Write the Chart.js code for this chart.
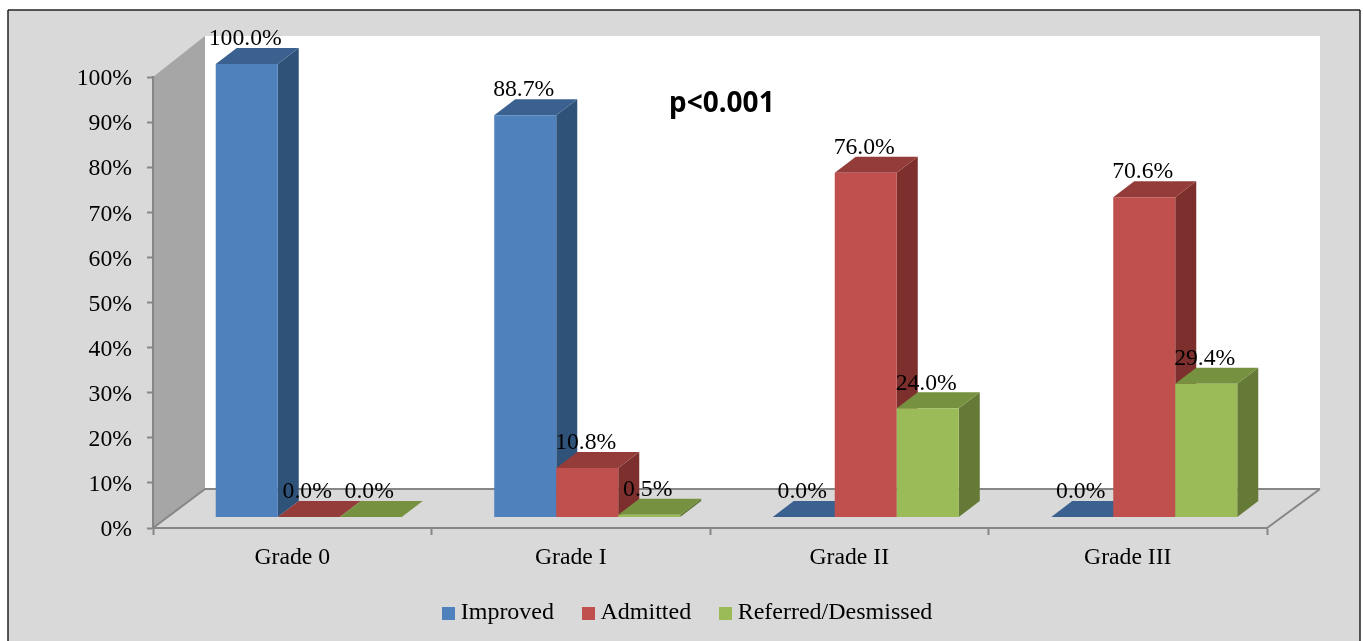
<!DOCTYPE html>
<html>
<head>
<meta charset="utf-8">
<title>Outcome by grade</title>
<script src="https://cdn.jsdelivr.net/npm/chart.js@4"></script>
<style>
    body { margin: 0; background: #fff; }
    canvas { display: block; }
</style>
</head>
<body>
<canvas id="gradeChart" width="1363" height="641"></canvas>
<script>
const grades = ['Grade 0', 'Grade I', 'Grade II', 'Grade III'];
const improved = [100.0, 88.7, 0.0, 0.0];
const admitted = [0.0, 10.8, 76.0, 70.6];
const referred = [0.0, 0.5, 24.0, 29.4];
const percentTicks = [0, 10, 20, 30, 40, 50, 60, 70, 80, 90, 100];
const pValueText = 'p<0.001';

const fontFamily = '"Liberation Serif", "Times New Roman", serif';
const fontSize = 23.7;
const axisColor = '#868686';

// offsets of the bars from the axis plane, and depth of the 3d effect
const barShiftX = 16.5;
const barShiftY = -11;
const depthX = 21;
const depthY = -16;

const palette = [
    { front: '#4f81bd', top: '#3a6190', side: '#2f5278' },
    { front: '#c0504d', top: '#943c3a', side: '#7c2f2d' },
    { front: '#9bbb59', top: '#76913f', side: '#667a38' }
];

function poly(ctx, points, fill) {
    ctx.beginPath();
    points.forEach((p, i) => i ? ctx.lineTo(p[0], p[1]) : ctx.moveTo(p[0], p[1]));
    ctx.closePath();
    ctx.fillStyle = fill;
    ctx.fill();
}

function line(ctx, x1, y1, x2, y2) {
    ctx.beginPath();
    ctx.moveTo(x1, y1);
    ctx.lineTo(x2, y2);
    ctx.stroke();
}

function swatch(color) {
    const c = document.createElement('canvas');
    c.width = 13;
    c.height = 13;
    const g = c.getContext('2d');
    g.fillStyle = color;
    g.fillRect(0, 0, 13, 13);
    return c;
}

// frame, back wall, side wall and floor
const backdrop = {
    id: 'backdrop',
    beforeDraw(chart) {
        const { ctx, chartArea: a } = chart;
        const wallX = 52;
        const wallY = 41;
        ctx.save();
        ctx.fillStyle = '#d9d9d9';
        ctx.fillRect(8, 10, 1352, 631);
        ctx.strokeStyle = '#222';
        ctx.lineWidth = 1.5;
        line(ctx, 8, 10, 1360, 10);
        line(ctx, 8, 10, 8, 641);
        line(ctx, 1360, 10, 1360, 641);

        ctx.fillStyle = '#fff';
        ctx.fillRect(a.left + wallX, a.top - wallY, a.width + 1, a.height + 2);
        poly(ctx, [[a.left, a.top], [a.left + wallX, a.top - wallY], [a.left + wallX, a.bottom - wallY + 2], [a.left, a.bottom]], '#a6a6a6');
        poly(ctx, [[a.left, a.bottom], [a.left + wallX, a.bottom - wallY + 2], [a.right + wallX + 1, a.bottom - wallY + 2], [a.right, a.bottom]], '#d9d9d9');

        ctx.strokeStyle = axisColor;
        ctx.lineWidth = 2;
        line(ctx, a.left + wallX, a.bottom - wallY + 2, a.right + wallX + 1, a.bottom - wallY + 2);
        line(ctx, a.right, a.bottom, a.right + wallX + 1, a.bottom - wallY + 2);
        line(ctx, a.left, a.bottom, a.left + wallX, a.bottom - wallY + 2);
        ctx.restore();
    }
};

// bars are painted left to right so each front face covers its neighbour's side
const bars3d = {
    id: 'bars3d',
    beforeDatasetsDraw(chart) {
        const ctx = chart.ctx;
        ctx.save();
        ctx.translate(barShiftX, barShiftY);
        chart.data.datasets.forEach((ds, i) => {
            const meta = chart.getDatasetMeta(i);
            const colors = palette[i];
            meta.data.forEach(bar => {
                const half = bar.width / 2;
                const l = bar.x - half;
                const r = bar.x + half;
                poly(ctx, [[r, bar.y], [r + depthX, bar.y + depthY], [r + depthX, bar.base + depthY], [r, bar.base]], colors.side);
                poly(ctx, [[l, bar.y], [l + depthX, bar.y + depthY], [r + depthX, bar.y + depthY], [r, bar.y]], colors.top);
            });
            meta.controller.draw();
        });
        ctx.restore();
    },
    beforeDatasetDraw() {
        return false;
    },
    afterDatasetsDraw(chart) {
        const ctx = chart.ctx;
        ctx.save();
        ctx.font = fontSize + 'px ' + fontFamily;
        ctx.fillStyle = '#000';
        ctx.textAlign = 'center';
        ctx.textBaseline = 'middle';
        chart.data.datasets.forEach((ds, i) => {
            chart.getDatasetMeta(i).data.forEach((bar, j) => {
                ctx.fillText(ds.data[j].toFixed(1) + '%', bar.x + barShiftX - 1.5, bar.y + barShiftY - 25);
            });
        });
        ctx.font = 'bold 28px "Noto Sans", sans-serif';
        ctx.textAlign = 'left';
        ctx.fillText(pValueText, 669, 104);
        ctx.restore();
    }
};

function dataset(label, values, index) {
    return {
        label: label,
        data: values,
        backgroundColor: palette[index].front,
        borderWidth: 0,
        yAxisID: 'yBars',
        clip: false,
        categoryPercentage: 0.668,
        barPercentage: 1
    };
}

new Chart(document.getElementById('gradeChart').getContext('2d'), {
    type: 'bar',
    data: {
        labels: grades,
        datasets: [
            dataset('Improved', improved, 0),
            dataset('Admitted', admitted, 1),
            dataset('Referred/Desmissed', referred, 2)
        ]
    },
    options: {
        responsive: false,
        animation: false,
        devicePixelRatio: 1,
        layout: { padding: { top: 77, left: 17, right: 0, bottom: 6 } },
        plugins: {
            tooltip: { enabled: false },
            legend: {
                position: 'bottom',
                labels: {
                    color: '#000',
                    font: { family: fontFamily, size: 24 },
                    usePointStyle: true,
                    boxWidth: 1,
                    padding: 33.5,
                    generateLabels(chart) {
                        const items = Chart.defaults.plugins.legend.labels.generateLabels(chart);
                        items.forEach(item => {
                            item.pointStyle = swatch(palette[item.datasetIndex].front);
                        });
                        return items;
                    }
                }
            }
        },
        scales: {
            x: {
                border: { color: axisColor, width: 2 },
                grid: { drawOnChartArea: false, color: axisColor, tickColor: axisColor, tickLength: 7, tickWidth: 2 },
                ticks: { color: '#000', font: { family: fontFamily, size: fontSize }, padding: 9, maxRotation: 0 },
                afterFit(scale) { scale.height = 39.5; }
            },
            y: {
                min: 0,
                max: 100,
                border: { color: axisColor, width: 2 },
                grid: { drawOnChartArea: false, color: axisColor, tickColor: axisColor, tickLength: 6, tickWidth: 2 },
                afterBuildTicks(scale) { scale.ticks = percentTicks.map(v => ({ value: v })); },
                ticks: { color: '#000', font: { family: fontFamily, size: fontSize }, padding: 15, labelOffset: 2, callback: v => v + '%' },
                afterFit(scale) { scale.width = 136; }
            },
            // the bars rise slightly faster than the printed axis, and this scale also reserves the right margin
            yBars: {
                position: 'right',
                min: 0,
                max: 99.56,
                border: { display: false },
                grid: { display: false },
                ticks: { display: false },
                afterFit(scale) { scale.width = 96; }
            }
        }
    },
    plugins: [backdrop, bars3d]
});
</script>
</body>
</html>
